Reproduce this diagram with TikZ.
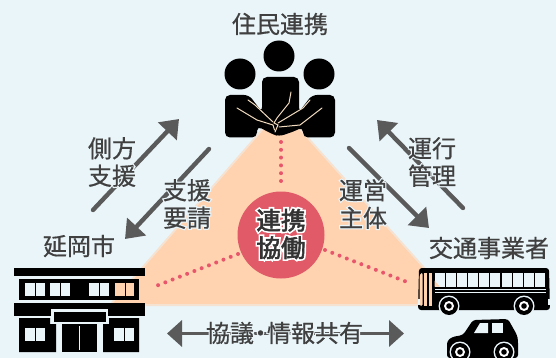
\documentclass[tikz,border=0pt]{standalone}
\usepackage{fontspec}
\usetikzlibrary{arrows.meta}
\setmainfont[FakeBold=0.6]{Noto Sans CJK JP}
\newfontfamily\halofont[FakeBold=11]{Noto Sans CJK JP}
\newfontfamily\centerfont[FakeBold=2.5]{Noto Sans CJK JP}
\newfontfamily\centerhalo[FakeBold=16]{Noto Sans CJK JP}
\definecolor{bgc}{HTML}{EAF5FA}
\definecolor{orangec}{HTML}{FFD2B0}
\definecolor{redc}{HTML}{E05A68}
\definecolor{dotc}{HTML}{E8566C}
\definecolor{arrowc}{HTML}{5A5A5A}
\definecolor{textc}{HTML}{404040}
\definecolor{creamc}{HTML}{F2DCC0}
\newcommand{\hl}[1]{\rlap{\textcolor{bgc}{\halofont #1}}#1}
\newcommand{\hc}[1]{\rlap{\textcolor{white}{\centerhalo #1}}{\centerfont #1}}
\tikzset{
  x=1pt,y=-1pt,
  lbl/.style={text=textc,font=\fontsize{24}{27.5}\selectfont,align=center,inner sep=0pt},
  arw/.style={draw=arrowc,line width=4.4pt,line cap=round,-{Triangle[length=17pt,width=25pt]}},
  arwtwo/.style={draw=arrowc,line width=3.6pt,{Triangle[length=15pt,width=26pt]}-{Triangle[length=15pt,width=26pt]}},
  dots/.style={draw=dotc,line width=4pt,line cap=round,dash pattern=on 0pt off 7.8pt},
  blk/.style={fill=black,draw=none},
  win/.style={fill=bgc,draw=none},
  sepl/.style={draw=creamc,line width=1pt,line cap=round},
}
\begin{document}
\begin{tikzpicture}
\useasboundingbox (0,0) rectangle (556,358);
\fill[bgc] (0,0) rectangle (556,358);
% triangle
\draw[orangec!55!bgc,line width=2pt,fill=orangec,line join=round] (281,108) -- (426,270) -- (418,305) -- (110,305) -- cycle;
% hub and dots
\node[circle,fill=redc,minimum size=87pt,inner sep=0pt] (hub) at (281,235) {};
\coordinate (d1a) at (281,142); \coordinate (d1b) at (281,185);
\coordinate (d2a) at (238,254); \coordinate (d2b) at (156,286);
\coordinate (d3a) at (325,250); \coordinate (d3b) at (407,282);
\draw[dots] (d1a) -- (d1b);
\draw[dots] (d2a) -- (d2b);
\draw[dots] (d3a) -- (d3b);
% arrows
\coordinate (a1s) at (93,210); \coordinate (a1e) at (179,119);
\coordinate (a2s) at (209,149); \coordinate (a2e) at (125,239);
\coordinate (a3s) at (463,208); \coordinate (a3e) at (377,120);
\coordinate (a4s) at (349,148); \coordinate (a4e) at (429,228);
\coordinate (a5s) at (167,333.5); \coordinate (a5e) at (404,333.5);
\draw[arw] (a1s) -- (a1e);
\draw[arw] (a2s) -- (a2e);
\draw[arw] (a3s) -- (a3e);
\draw[arw] (a4s) -- (a4e);
\draw[arwtwo] (a5s) -- (a5e);
% labels
\node[lbl] (tjumin) at (280,24) {住民連携};
\node[lbl] (tnobeoka) at (79,246) {延岡市};
\node[lbl] (tkotsu) at (489,248) {交通事業者};
\node[lbl] (tsokuho) at (112,162) {\hl{側方}\\\hl{支援}};
\node[lbl] (tshien) at (187,204) {\hl{支援}\\\hl{要請}};
\node[lbl] (tunei) at (363,204) {\hl{運営}\\\hl{主体}};
\node[lbl] (tunko) at (432,162) {\hl{運行}\\\hl{管理}};
\node[lbl] (tkyogi) at (284.5,333) {\rlap{\textcolor{bgc}{\halofont 協議\kern-5.5pt・\kern-5.5pt 情報共有}}協議\kern-5.5pt・\kern-5.5pt 情報共有};
\node[lbl,text=black!80,font=\fontsize{24.5}{27.5}\selectfont] (tcenter) at (281,234) {\hc{連携}\\\hc{協働}};
% people
\fill[blk] (279,56) circle (15.5);
\fill[blk] (240,74) circle (15.5);
\fill[blk] (319,74) circle (15.5);
\fill[blk,rounded corners=5pt] (225,137.5) -- (225,95) -- (249,95) -- (262,112) -- (262,77) -- (299,77) -- (299,112) -- (312,95) -- (335,95) -- (335,137.5) -- (303,137.5) -- (303,127) -- (295,131) -- (279,136.5) -- (272,134) -- (257,126) -- (257,137.5) -- cycle;
\draw[sepl] (237,108) -- (257,120) -- (273,125) -- (274.5,130);
\draw[sepl] (248,100) -- (255,105) -- (273,122);
\draw[sepl] (291,92) -- (289,103) -- (277,118) -- (274,123) -- (278,125) -- (275,132);
\draw[sepl] (310,100) -- (303,108) -- (278,123);
\draw[sepl] (322,108) -- (300,125) -- (279,127);
% building
\fill[blk] (14,268) rectangle (145,276);
\fill[blk] (19,279) rectangle (139,300);
\foreach \xa/\xb in {25/34.5,35.5/45,50/59.5,60.5/70,89/98.5,99.5/109}
  \fill[win] (\xa,283) rectangle (\xb,296);
\foreach \xa/\xb in {115/124.5,125.5/134}
  \fill[orangec] (\xa,283) rectangle (\xb,296);
\fill[blk] (14,303) rectangle (145,316);
\fill[win] (51,309) rectangle (108,325);
\fill[blk] (53.5,312) rectangle (106,321.5);
\fill[blk] (19,318) -- (50,318) -- (50,324) -- (56,324) -- (56,352) -- (19,352) -- cycle;
\fill[blk] (139,318) -- (109,318) -- (109,324) -- (103,324) -- (103,352) -- (139,352) -- cycle;
\fill[blk] (62,324) rectangle (97,352);
\draw[bgc,line width=1pt] (79.5,326) -- (79.5,350);
\foreach \xa/\xb in {25/34.5,35.5/45,114/123.5,124.5/134}
  \fill[win] (\xa,328) rectangle (\xb,341);
% bus
\fill[blk,rounded corners=3pt] (419,268) -- (549,268) -- (550,310) -- (418,310) -- cycle;
\fill[orangec,rounded corners=1.5pt] (419.5,306) -- (419.5,276) -- (421,273) -- (422.5,273) -- (422.5,306) -- cycle;
\fill[orangec] (424,273) rectangle (427,306);
\fill[orangec] (428.5,273) rectangle (432,306);
\foreach \i in {0,...,9}
  \fill[win] (434.5+\i*11.17,273) rectangle (444.5+\i*11.17,286.5);
\fill[orangec] (434.5,280.5) -- (439.6,286.5) -- (434.5,286.5) -- cycle;
\fill[win] (435,288.8) rectangle (546,289.6);
\fill[win] (435,292.4) rectangle (546,293.2);
\fill[bgc] (418,299) rectangle (420,305);
\fill[bgc] (548,299) rectangle (550,305);
\foreach \cx in {449,524}{
  \fill[bgc] (\cx,306) circle (10.5);
  \fill[blk] (\cx,306) circle (9);
  \fill[white] (\cx,306) circle (5);
  \fill[blk] (\cx,306) circle (2.8);
}
% car
\begin{scope}
\clip (440,315) rectangle (525,358);
\fill[blk,rounded corners=3pt] (447,358) -- (447,341) -- (452,337) -- (463,335) -- (473,320) -- (508,319) -- (517,335) -- (518,340) -- (518,358) -- cycle;
\fill[win] (474,333) -- (480,323) -- (488,323) -- (488,333) -- cycle;
\fill[win] (492,323) rectangle (503,333);
\foreach \cx in {460,504}{
  \fill[bgc] (\cx,352) circle (10.5);
  \fill[blk] (\cx,352) circle (9);
  \fill[white] (\cx,352) circle (5);
  \fill[blk] (\cx,352) circle (2.8);
}
\end{scope}
\end{tikzpicture}
\end{document}
